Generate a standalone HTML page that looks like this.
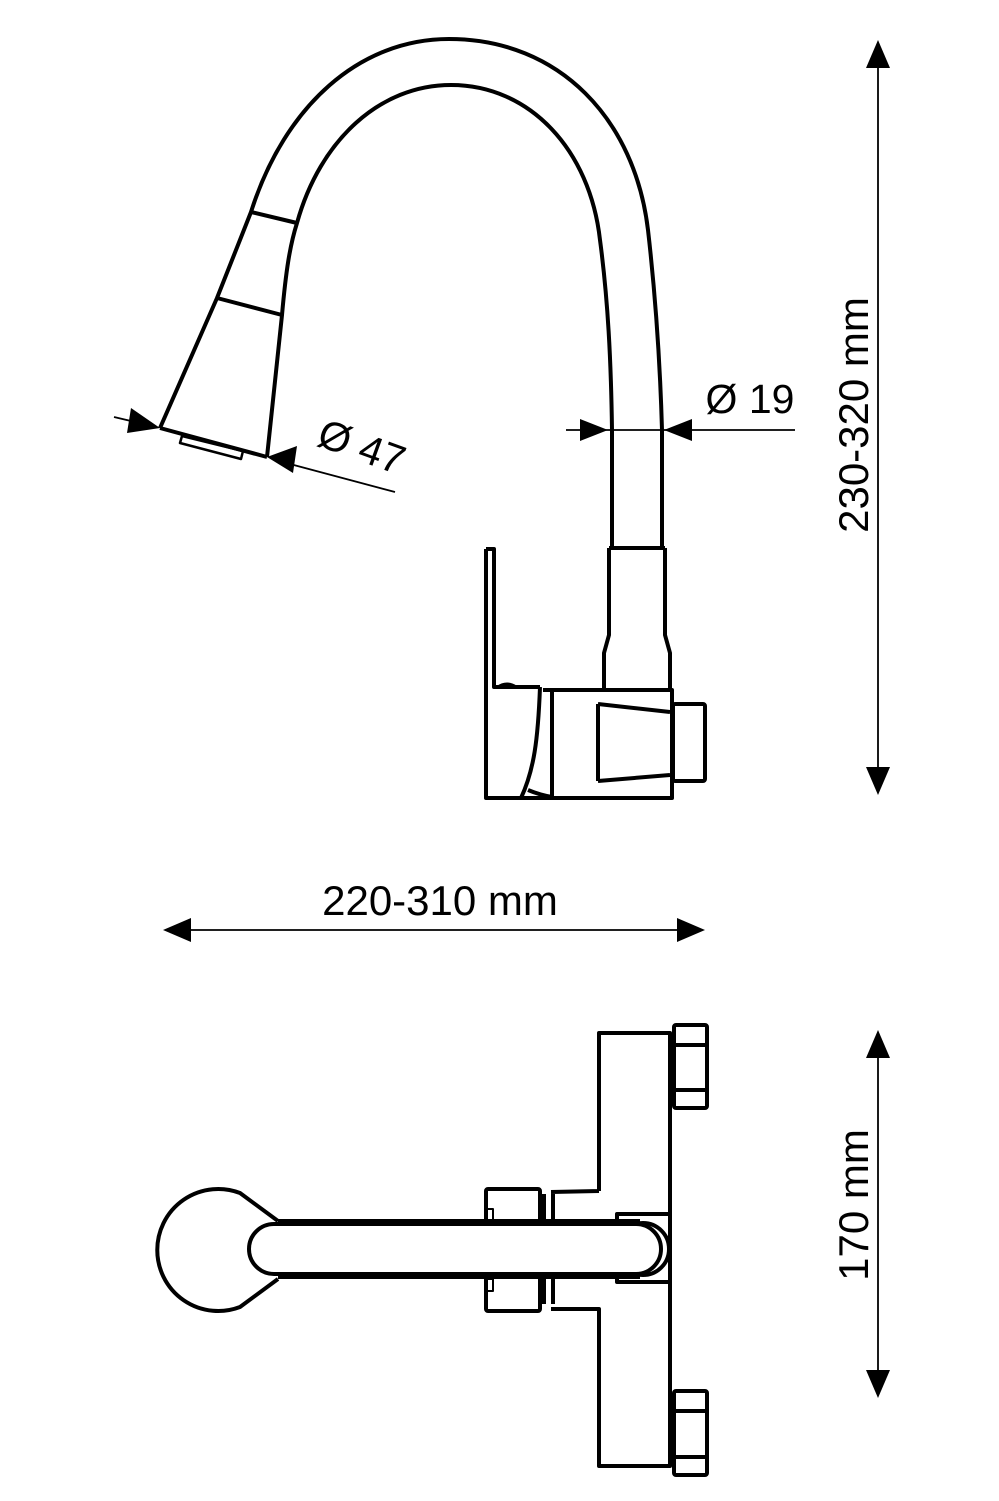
<!DOCTYPE html>
<html><head><meta charset="utf-8"><style>
html,body{margin:0;padding:0;background:#fff;}
svg{display:block;}
text{font-family:"Liberation Sans",sans-serif;fill:#000;}
</style></head><body>
<svg width="999" height="1501" viewBox="0 0 999 1501" xmlns="http://www.w3.org/2000/svg">
<g fill="none" stroke="#000" stroke-width="4" stroke-linejoin="round">
<path d="M160,428 L217,298 C232,260 240,240 251,212 C285,105 360,39 449,39 C560,39 635,120 648,230 C656,300 660,360 662,430 L662,550"/>
<path d="M267,457 L282,315 C286,270 290,245 297,223 C320,140 380,85 451,85 C530,85 590,150 600,240 C608,300 611,360 612,430 L612,550"/>
<line x1="251" y1="212" x2="297" y2="223"/>
<line x1="217" y1="298" x2="282" y2="315"/>
<line x1="160" y1="428" x2="267" y2="457"/>
<polygon points="182,436 243,451 241,459 180,443" stroke-width="2.5"/>
<path d="M609,548 L665,548 M609,548 L609,635 L604,653 L604,688 M665,548 L665,635 L670,653 L670,688"/>
<path d="M486,549 L494,549 L494,687 L540,687 M486,549 L486,798 L672,798 L672,690 L543,690"/>
<path d="M497,687 Q507,680 517,687" fill="#000" stroke-width="2"/>
<path d="M540,687 C538,740 534,770 521,798"/>
<path d="M528,790 Q540,795 552,797"/>
<line x1="552" y1="690" x2="552" y2="798"/>
<path d="M598,704 L670,712 M598,781 L670,775 M598,704 L598,781"/>
<rect x="673" y="704" width="32" height="77" rx="2"/>
<path d="M599,1191 L599,1033 L670,1033 L670,1466 L599,1466 L599,1309 L551,1309 M599,1191 L551,1192"/>
<rect x="674" y="1025" width="33" height="83" rx="2"/>
<line x1="674" y1="1045" x2="707" y2="1045"/><line x1="674" y1="1090" x2="707" y2="1090"/>
<rect x="674" y="1391" width="33" height="84" rx="2"/>
<line x1="674" y1="1411" x2="707" y2="1411"/><line x1="674" y1="1457" x2="707" y2="1457"/>
<rect x="486" y="1189" width="54" height="122" rx="2"/>
<rect x="487" y="1209" width="6" height="12" stroke-width="2"/>
<rect x="487" y="1279" width="6" height="12" stroke-width="2"/>
<line x1="544" y1="1194" x2="544" y2="1304"/><line x1="553" y1="1194" x2="553" y2="1304"/>
<rect x="617" y="1214" width="53" height="68" fill="#fff"/>
<circle cx="643" cy="1249" r="26" fill="#fff"/>
<rect x="249" y="1224" width="412" height="50" rx="25" fill="#fff"/>
<line x1="278" y1="1221" x2="640" y2="1221"/>
<line x1="278" y1="1277" x2="640" y2="1277"/>
<path d="M278,1221 L240,1193 A61,61 0 1 0 240,1307 L278,1279"/>
<g stroke-width="1.8">
<line x1="878" y1="60" x2="878" y2="775"/>
<line x1="878" y1="1055" x2="878" y2="1375"/>
<line x1="190" y1="930" x2="680" y2="930"/>
<line x1="566" y1="430" x2="795" y2="430"/>
<line x1="114" y1="417" x2="135" y2="422"/>
<line x1="290" y1="464" x2="395" y2="492"/>
</g>
</g>
<g fill="#000">
<polygon points="878,40 866,68 890,68"/>
<polygon points="878,795 866,767 890,767"/>
<polygon points="878,1030 866,1058 890,1058"/>
<polygon points="878,1398 866,1370 890,1370"/>
<polygon points="163,930 191,918 191,942"/>
<polygon points="705,930 677,918 677,942"/>
<polygon points="608,430 580,419 580,441"/>
<polygon points="664,430 692,419 692,441"/>
<polygon points="160,428 131,408 127,433"/>
<polygon points="267,457 297,446 293,473"/>
</g>
<text x="440" y="915" font-size="42" text-anchor="middle">220-310 mm</text>
<text x="750" y="413" font-size="41" text-anchor="middle">Ø 19</text>
<text transform="translate(357,460) rotate(20)" font-size="41" text-anchor="middle">Ø 47</text>
<text transform="translate(868,415) rotate(-90)" font-size="42" text-anchor="middle">230-320 mm</text>
<text transform="translate(868,1205) rotate(-90)" font-size="42" text-anchor="middle">170 mm</text>
</svg>
</body></html>
